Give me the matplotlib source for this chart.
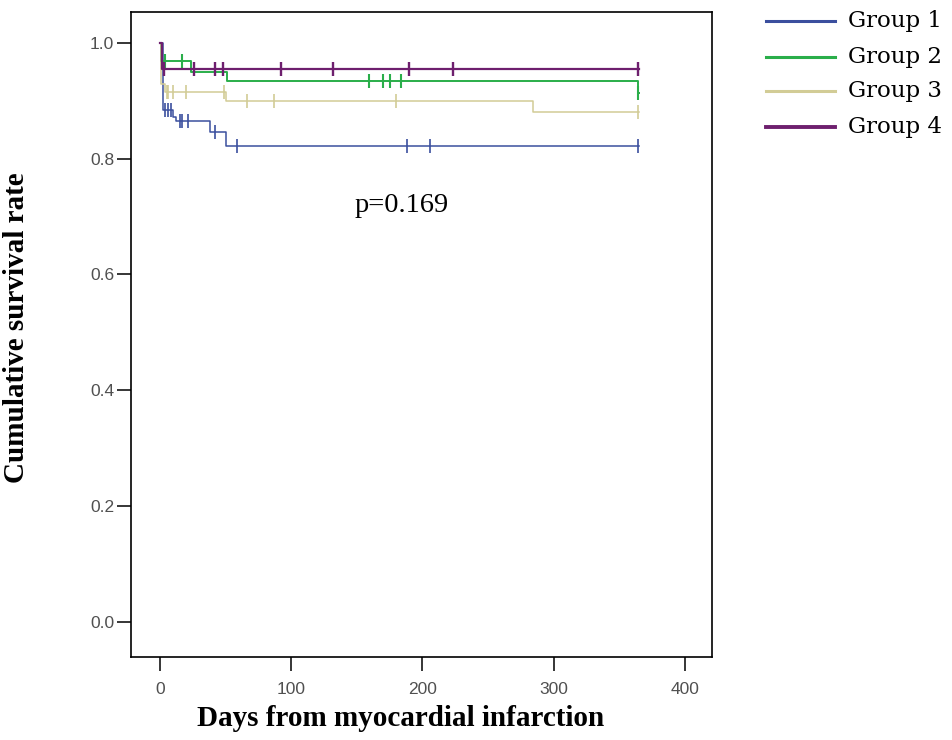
import numpy as np
import matplotlib
matplotlib.use("Agg")
import matplotlib.pyplot as plt
from matplotlib.lines import Line2D

groups = ["Group 1", "Group 2", "Group 3", "Group 4"]
colors = ["#3b4f9e", "#2aae4a", "#d2cc96", "#6e1f6e"]
line_widths = [1.1, 1.4, 1.1, 1.6]

# step times (days) and survival just after each step
g1_times = [0, 2, 10, 12, 38, 50, 365]
g1_surv = [1.0, 0.884, 0.872, 0.865, 0.846, 0.822, 0.822]
g1_censor = [3.5, 6, 8.5, 15, 17, 21, 42, 59, 188, 206, 364]

g2_times = [0, 1, 24, 51, 364, 365]
g2_surv = [1.0, 0.968, 0.950, 0.933, 0.913, 0.913]
g2_censor = [4, 17, 159, 170, 175, 184, 364]

g3_times = [0, 0.5, 4, 50, 284, 365]
g3_surv = [1.0, 0.929, 0.915, 0.900, 0.880, 0.880]
g3_censor = [5, 6.5, 10, 20, 49, 66, 87, 180, 364]

g4_times = [0, 1.5, 365]
g4_surv = [1.0, 0.955, 0.955]
g4_censor = [3, 26, 42, 48, 92, 132, 190, 223, 364]

x_ticks = [0, 100, 200, 300, 400]
y_ticks = [0.0, 0.2, 0.4, 0.6, 0.8, 1.0]
p_text = "p=0.169"

curves = [
    (g1_times, g1_surv, g1_censor),
    (g2_times, g2_surv, g2_censor),
    (g3_times, g3_surv, g3_censor),
    (g4_times, g4_surv, g4_censor),
]

fig = plt.figure(figsize=(9.52, 7.4), dpi=100)
ax = fig.add_axes([0.1381, 0.1122, 0.6098, 0.872])

for (times, surv, censor), color, lw in zip(curves, colors, line_widths):
    times = np.array(times, dtype=float)
    surv = np.array(surv, dtype=float)
    ax.step(times, surv, where="post", color=color, lw=lw)
    # censored cases sit on the curve at their time
    idx = np.searchsorted(times, censor, side="right") - 1
    ax.plot(censor, surv[idx], ls="none", marker="|", ms=9.5,
            mew=lw + 0.1, color=color)

ax.set_xlim(-21.7, 420.7)
ax.set_ylim(-0.0604, 1.0535)
ax.set_xticks(x_ticks)
ax.set_yticks(y_ticks)
ax.set_yticklabels([f"{v:.1f}" for v in y_ticks])
ax.tick_params(direction="out", length=10, width=1.1, labelsize=12.5,
               labelcolor="#505050")
ax.tick_params(axis="x", pad=8)
ax.tick_params(axis="y", pad=2.5)
for tl in ax.get_xticklabels() + ax.get_yticklabels():
    tl.set_family("Liberation Sans")
for sp in ax.spines.values():
    sp.set_linewidth(1.2)

ax.text(148.4, 0.708, p_text, fontsize=20.5, family="Liberation Serif",
        ha="left", va="baseline")

fig.text(401 / 952, 1 - 718 / 740, "Days from myocardial infarction",
         fontsize=21, fontweight="bold", family="Liberation Serif",
         ha="center", va="center")
fig.text(17 / 952, 1 - 328 / 740, "Cumulative survival rate",
         fontsize=21, fontweight="bold", family="Liberation Serif",
         rotation=90, ha="center", va="center")

# legend drawn at the right, outside the plot box
legend_rows = [21, 57, 91, 127]
for name, color, row in zip(groups, colors, legend_rows):
    y = 1 - row / 740
    lw = 2.8 if name == "Group 4" else 2.2
    fig.add_artist(Line2D([766 / 952, 835 / 952], [y, y], color=color, lw=lw,
                          transform=fig.transFigure))
    fig.text(848 / 952, y, name, fontsize=16.5, family="DejaVu Serif",
             ha="left", va="center")

fig.savefig("out.png", dpi=100)
